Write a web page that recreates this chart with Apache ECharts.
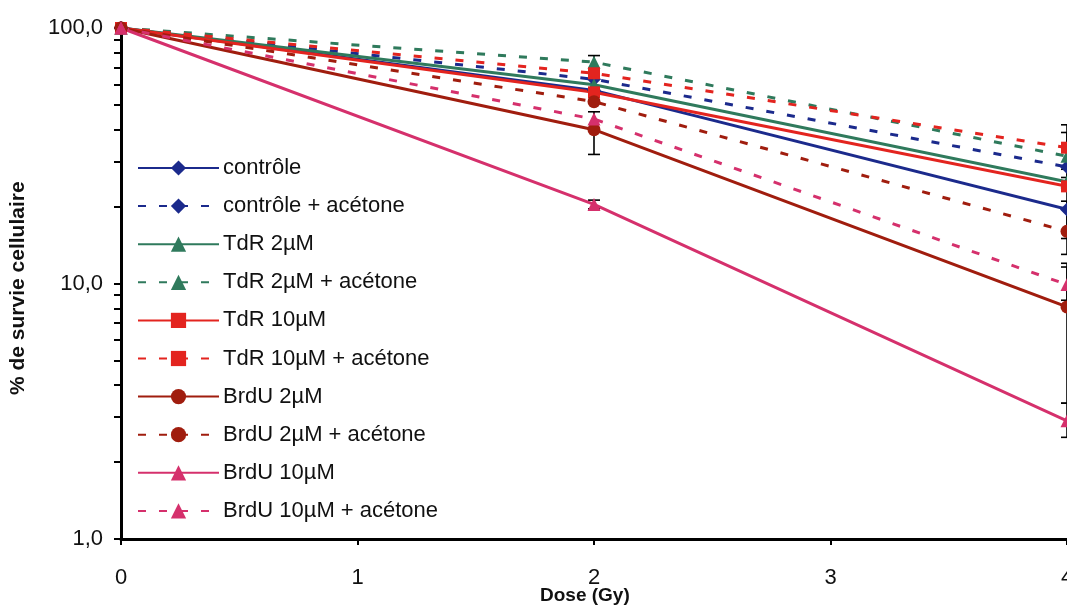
<!DOCTYPE html>
<html>
<head>
<meta charset="utf-8">
<script src="https://cdn.jsdelivr.net/npm/echarts@6/dist/echarts.min.js"></script>
<style>
  html, body { margin: 0; padding: 0; background: #ffffff; }
  #chart { width: 1067px; height: 607px; }
</style>
</head>
<body>
<div id="chart"></div>
<script>
// Survival fraction (%) after irradiation, per treatment
const doses = [0, 2, 4];
const controle          = [100, 57, 19.5];
const controleAcetone   = [100, 63, 28.6];
const tdr2              = [100, 60, 25];
const tdr2Acetone       = [100, 73.5, 31.5];
const tdr10             = [100, 56, 24];
const tdr10Acetone      = [100, 66.5, 34];
const brdu2             = [100, 40, 8.1];
const brdu2Acetone      = [100, 51.5, 16];
const brdu10            = [100, 20.4, 2.9];
const brdu10Acetone     = [100, 44, 9.9];

// Error bars: [dose, low, high]
const errorBars = [
  [2, 67, 78], [2, 32, 47], [2, 19.6, 21.2],
  [4, 28, 41.8], [4, 26, 39], [4, 24, 34], [4, 15, 24],
  [4, 13, 21], [4, 8.6, 12], [4, 3.4, 11.6], [4, 2.5, 3.4]
];

const yTickValues = [1, 2, 3, 4, 5, 6, 7, 8, 9, 10, 20, 30, 40, 50, 60, 70, 80, 90, 100];
const yLabelValues = [1, 10, 100];
const xLabelValues = [0, 1, 2, 3, 4];

const BLUE = '#1b2a8c', GREEN = '#2f7a5c', RED = '#e3241f', DKRED = '#a01d0e', PINK = '#d5306c';
const DASH = [8, 13];
const FONT = '"Liberation Sans", Arial, sans-serif';

function mk(name, values, color, symbol, dashed, size) {
  return {
    name: name,
    type: 'line',
    data: doses.map((d, i) => [d, values[i]]),
    symbol: symbol,
    symbolSize: size || 13,
    clip: false,
    z: 3,
    lineStyle: { color: color, width: 3, type: dashed ? DASH : 'solid' },
    itemStyle: { color: color, borderWidth: 0 },
    emphasis: { disabled: true },
    animation: false
  };
}

const chart = echarts.init(document.getElementById('chart'), null, { renderer: 'canvas' });
chart.setOption({
  animation: false,
  backgroundColor: '#ffffff',
  grid: { left: 121, right: 0, top: 28, bottom: 68, containLabel: false, outerBoundsMode: 'none' },
  xAxis: {
    type: 'value', min: 0, max: 4, interval: 1,
    axisLine: { show: true, onZero: false, lineStyle: { color: '#000', width: 3 } },
    axisTick: { show: true, length: 6, lineStyle: { color: '#000', width: 2 } },
    axisLabel: { margin: 28, fontSize: 22, fontFamily: FONT, color: '#111', showMaxLabel: true,
      hideOverlap: false, customValues: xLabelValues },
    splitLine: { show: false }
  },
  yAxis: {
    type: 'log', logBase: 10, min: 1, max: 100,
    axisLine: { show: true, lineStyle: { color: '#000', width: 3 } },
    axisTick: { show: true, length: 7, lineStyle: { color: '#000', width: 2 }, customValues: yTickValues },
    axisLabel: { margin: 18, fontSize: 22, fontFamily: FONT, color: '#111', customValues: yLabelValues,
      formatter: v => Number(v).toFixed(1).replace('.', ',') },
    minorTick: { show: false },
    splitLine: { show: false }
  },
  legend: {
    orient: 'vertical', left: 137, top: 157, padding: 0,
    itemWidth: 81, itemHeight: 19, itemGap: 16.1,
    textStyle: { fontSize: 22, fontFamily: FONT, color: '#111', padding: [0, 0, 0, -1] },
    selectedMode: false,
    data: ['contrôle', 'contrôle + acétone', 'TdR 2µM', 'TdR 2µM + acétone',
      'TdR 10µM', 'TdR 10µM + acétone', 'BrdU 2µM', 'BrdU 2µM + acétone', 'BrdU 10µM', 'BrdU 10µM + acétone']
  },
  graphic: [
    { type: 'text', left: 540, top: 586,
      style: { text: 'Dose (Gy)', font: 'bold 19px ' + FONT, fill: '#111' } },
    { type: 'text', x: 8, y: 395, rotation: Math.PI / 2,
      style: { text: '% de survie cellulaire', font: 'bold 21px ' + FONT, fill: '#111' } }
  ],
  series: [
    {
      name: 'errors', type: 'custom', z: 2, clip: false, animation: false,
      data: errorBars,
      renderItem: function (params, api) {
        const x = api.value(0);
        const lo = api.coord([x, api.value(1)]);
        const hi = api.coord([x, api.value(2)]);
        const w = 6;
        const st = { stroke: '#000', lineWidth: 1.6 };
        return { type: 'group', children: [
          { type: 'line', shape: { x1: lo[0], y1: lo[1], x2: hi[0], y2: hi[1] }, style: st },
          { type: 'line', shape: { x1: lo[0] - w, y1: lo[1], x2: lo[0] + w, y2: lo[1] }, style: st },
          { type: 'line', shape: { x1: hi[0] - w, y1: hi[1], x2: hi[0] + w, y2: hi[1] }, style: st }
        ]};
      }
    },
    mk('contrôle', controle, BLUE, 'diamond', false, 14),
    mk('contrôle + acétone', controleAcetone, BLUE, 'diamond', true, 14),
    mk('TdR 2µM', tdr2, GREEN, 'triangle', false),
    mk('TdR 2µM + acétone', tdr2Acetone, GREEN, 'triangle', true),
    mk('TdR 10µM', tdr10, RED, 'rect', false, 12),
    mk('TdR 10µM + acétone', tdr10Acetone, RED, 'rect', true, 12),
    mk('BrdU 2µM', brdu2, DKRED, 'circle', false),
    mk('BrdU 2µM + acétone', brdu2Acetone, DKRED, 'circle', true),
    mk('BrdU 10µM', brdu10, PINK, 'triangle', false),
    mk('BrdU 10µM + acétone', brdu10Acetone, PINK, 'triangle', true)
  ]
});
</script>
</body>
</html>
